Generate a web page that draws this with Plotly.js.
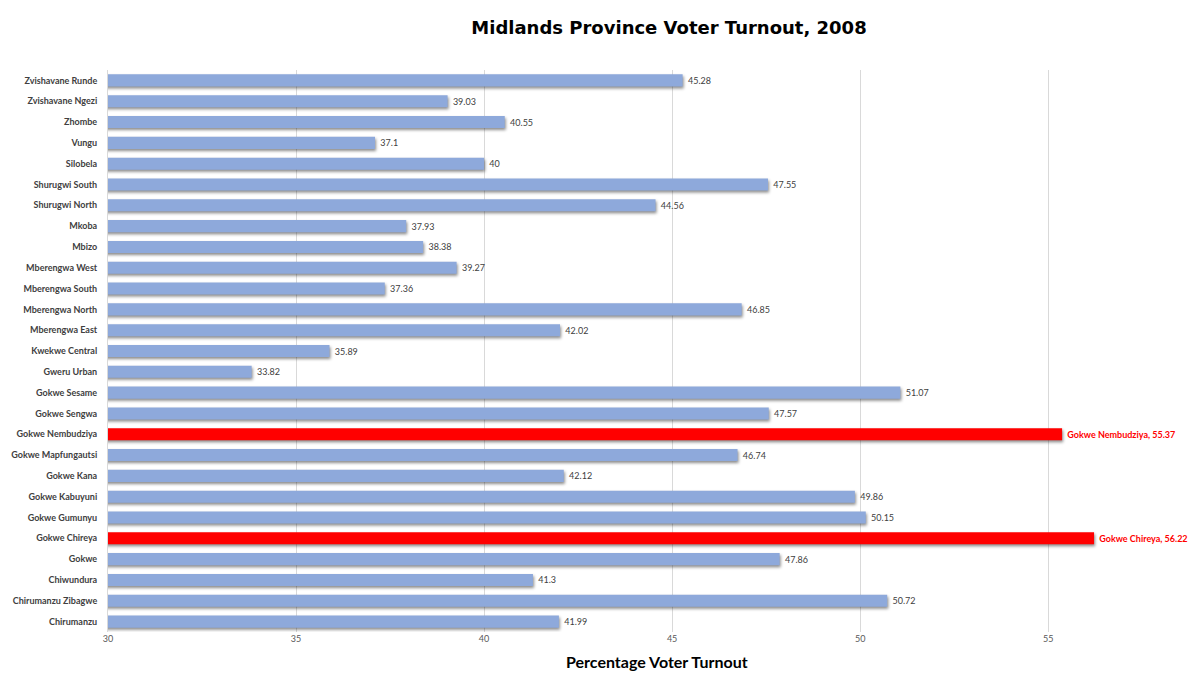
<!DOCTYPE html>
<html><head><meta charset="utf-8">
<script src="https://cdn.plot.ly/plotly-3.0.1.min.js"></script>
<style>
html,body{margin:0;padding:0;background:#fff;}
#chart{width:1200px;height:689px;}
.barlayer .point path{filter:drop-shadow(1px 2px 1.5px rgba(0,0,0,0.45));}
</style>
</head><body>
<div id="chart"></div>
<script>
// Categories listed bottom-to-top (as Plotly draws a category axis)
const constituencies = [
  "Chirumanzu","Chirumanzu Zibagwe","Chiwundura","Gokwe","Gokwe Chireya",
  "Gokwe Gumunyu","Gokwe Kabuyuni","Gokwe Kana","Gokwe Mapfungautsi","Gokwe Nembudziya",
  "Gokwe Sengwa","Gokwe Sesame","Gweru Urban","Kwekwe Central","Mberengwa East",
  "Mberengwa North","Mberengwa South","Mberengwa West","Mbizo","Mkoba",
  "Shurugwi North","Shurugwi South","Silobela","Vungu","Zhombe",
  "Zvishavane Ngezi","Zvishavane Runde"
];
const turnout = [
  41.99,50.72,41.3,47.86,56.22,
  50.15,49.86,42.12,46.74,55.37,
  47.57,51.07,33.82,35.89,42.02,
  46.85,37.36,39.27,38.38,37.93,
  44.56,47.55,40,37.1,40.55,
  39.03,45.28
];
const highlighted = ["Gokwe Chireya","Gokwe Nembudziya"];
const xTicks = [30,35,40,45,50,55];

const isHi = constituencies.map(c => highlighted.includes(c));
const labels = constituencies.map((c,i) => "\u00a0" + (isHi[i] ? c + ", " + turnout[i] : String(turnout[i])));

const trace = {
  type: "bar",
  orientation: "h",
  y: constituencies,
  x: turnout,
  marker: {color: isHi.map(h => h ? "#FF0000" : "#8EA9DB"), line: {width: 0}},
  text: labels,
  textposition: "outside",
  cliponaxis: false,
  constraintext: "none",
  textfont: {
    family: "Lato, 'Open Sans', sans-serif",
    size: 9,
    color: isHi.map(h => h ? "#FF0000" : "#404040"),
    weight: isHi.map(h => h ? 700 : 400)
  },
  hoverinfo: "x+y"
};

const layout = {
  width: 1200, height: 689,
  paper_bgcolor: "#fff", plot_bgcolor: "#fff",
  margin: {l: 108, r: 39, t: 70, b: 57},
  showlegend: false,
  bargap: 0.42,
  title: {
    text: "<b>Midlands Province Voter Turnout, 2008</b>",
    font: {family: "'DejaVu Sans', 'Liberation Sans', Arial, sans-serif", size: 18, color: "#000"},
    x: 669/1200, xanchor: "center", xref: "container",
    y: 1 - 28/689, yanchor: "middle", yref: "container"
  },
  xaxis: {
    range: [30, 58],
    tickvals: xTicks,
    ticktext: xTicks.map(String),
    showgrid: true, gridcolor: "#d9d9d9", gridwidth: 1,
    zeroline: false, showline: false,
    ticks: "",
    tickfont: {family: "Lato, sans-serif", size: 9, color: "#595959"}
  },
  yaxis: {
    type: "category",
    categoryorder: "array",
    categoryarray: constituencies,
    showgrid: false, zeroline: false,
    showline: true, linecolor: "#d9d9d9", linewidth: 1,
    ticks: "", ticklabelstandoff: 8,
    tickfont: {family: "Lato, 'Open Sans', sans-serif", size: 9, color: "#404040", weight: 700}
  },
  annotations: [{
    text: "<b>Percentage Voter Turnout</b>",
    xref: "paper", yref: "paper",
    x: (657 - 108) / (1161 - 108), y: -0.053,
    xanchor: "center", yanchor: "middle",
    showarrow: false,
    font: {family: "Lato, 'Open Sans', sans-serif", size: 16, color: "#000"}
  }]
};

Plotly.newPlot("chart", [trace], layout, {displayModeBar: false, responsive: false});
</script>
</body></html>
